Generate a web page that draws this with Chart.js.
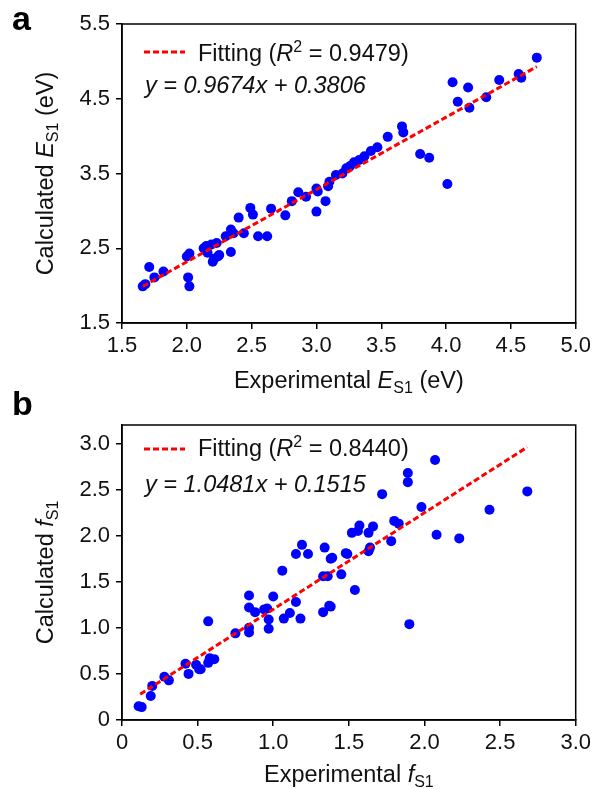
<!DOCTYPE html>
<html>
<head>
<meta charset="utf-8">
<script src="https://cdn.jsdelivr.net/npm/chart.js@4.4.1/dist/chart.umd.min.js"></script>
<style>
  html, body { margin: 0; padding: 0; background: #fff; }
  .panel { position: absolute; left: 0; width: 595px; }
  #panelA { top: 0; height: 400px; }
  #panelB { top: 380px; height: 409px; }
</style>
</head>
<body>
<div class="panel" id="panelA"><canvas id="chartA"></canvas></div>
<div class="panel" id="panelB"><canvas id="chartB"></canvas></div>
<script>
// --- DATA ---

// panel a : excitation energy E_S1 (eV)
const expA = [1.66, 1.68, 1.71, 1.75, 1.82, 2.01, 2.02, 2.00, 2.02, 2.13, 2.15, 2.19, 2.23, 2.16, 2.20,
  2.24, 2.25, 2.21, 2.34, 2.30, 2.34, 2.36, 2.40, 2.44, 2.49, 2.51, 2.55, 2.62, 2.65, 2.76,
  2.81, 2.86, 2.92, 3.00, 3.01, 3.00, 3.07, 3.09, 3.10, 3.15, 3.20, 3.23, 3.26, 3.29, 3.33,
  3.37, 3.42, 3.47, 3.55, 3.66, 3.67, 3.80, 3.87, 4.01, 4.05, 4.09, 4.17, 4.18, 4.31, 4.41,
  4.56, 4.58, 4.70];
const calcA = [1.99, 2.02, 2.25, 2.11, 2.19, 2.11, 1.99, 2.39, 2.43, 2.50, 2.53, 2.55, 2.57, 2.44, 2.32,
  2.39, 2.41, 2.36, 2.45, 2.66, 2.75, 2.70, 2.91, 2.70, 3.04, 2.95, 2.66, 2.66, 3.03, 2.94,
  3.13, 3.25, 3.19, 3.30, 3.26, 2.99, 3.13, 3.33, 3.39, 3.48, 3.50, 3.57, 3.60, 3.65, 3.68,
  3.73, 3.80, 3.85, 3.99, 4.13, 4.05, 3.76, 3.71, 3.36, 4.72, 4.46, 4.65, 4.38, 4.52, 4.75,
  4.83, 4.78, 5.05];
const fitAX = [1.66, 4.70];
const fitAY = [1.99, 4.93];
const ticksAX = [1.5, 2.0, 2.5, 3.0, 3.5, 4.0, 4.5, 5.0];
const ticksAY = [1.5, 2.5, 3.5, 4.5, 5.5];

// panel b : oscillator strength f_S1
const expB = [0.11, 0.13, 0.20, 0.19, 0.28, 0.31, 0.42, 0.44, 0.49, 0.51, 0.52, 0.57, 0.58, 0.61, 0.57,
  0.75, 0.84, 0.84, 0.84, 0.84, 0.88, 0.94, 0.96, 0.97, 0.97, 1.00, 1.07, 1.11, 1.15, 1.18,
  1.06, 1.33, 1.37, 1.33, 1.36, 1.15, 1.19, 1.23, 1.34, 1.38, 1.45, 1.48, 2.07, 1.89, 1.89,
  1.72, 2.68, 2.43, 1.98, 2.08, 2.23, 1.80, 1.83, 1.78, 1.66, 1.63, 1.57, 1.56, 1.52, 1.49,
  1.39, 1.63, 1.64, 1.54, 1.90, 1.38];
const calcB = [0.15, 0.14, 0.37, 0.26, 0.47, 0.43, 0.61, 0.50, 0.60, 0.55, 0.55, 0.62, 0.67, 0.66, 1.07,
  0.94, 0.95, 1.00, 1.22, 1.35, 1.17, 1.20, 1.21, 1.09, 0.99, 1.34, 1.10, 1.16, 1.28, 1.10,
  1.62, 1.17, 1.24, 1.56, 1.56, 1.80, 1.90, 1.80, 1.87, 1.75, 1.58, 1.81, 2.82, 2.68, 2.58,
  2.45, 2.48, 2.28, 2.31, 2.01, 1.97, 2.16, 2.13, 1.94, 2.10, 2.03, 2.11, 2.05, 2.03, 1.80,
  1.76, 1.83, 1.87, 1.41, 1.04, 1.23];
const fitBX = [0.12, 2.68];
const fitBY = [0.28, 2.96];
const ticksBX = [0, 0.5, 1.0, 1.5, 2.0, 2.5, 3.0];
const ticksBY = [0, 0.5, 1.0, 1.5, 2.0, 2.5, 3.0];

// --- HELPERS ---

const FONT = 'Arial, "Liberation Sans", Helvetica, sans-serif';
Chart.defaults.font.family = FONT;

function pts(xs, ys) {
  return xs.map((x, i) => ({ x: x, y: ys[i] }));
}

function fontOf(p) {
  return (p.bold ? 'bold ' : '') + (p.italic ? 'italic ' : '') + p.size + 'px ' + FONT;
}

// draw text made of several runs (italic letters, sub/superscripts)
function drawRich(ctx, parts, x, y, align) {
  let total = 0;
  parts.forEach(p => {
    ctx.font = fontOf(p);
    p.w = ctx.measureText(p.text).width;
    total += p.w;
  });
  let cx = align === 'center' ? x - total / 2 : x;
  ctx.textAlign = 'left';
  ctx.textBaseline = 'alphabetic';
  parts.forEach(p => {
    ctx.font = fontOf(p);
    ctx.fillText(p.text, cx, y + (p.dy || 0));
    cx += p.w;
  });
}

function makeScale(min, max, tickVals, fmt, isX, fitSize) {
  return {
    type: 'linear',
    min: min,
    max: max,
    afterBuildTicks: scale => { scale.ticks = tickVals.map(v => ({ value: v })); },
    afterFit: scale => {
      if (isX) scale.height = fitSize; else scale.width = fitSize;
    },
    ticks: {
      autoSkip: false,
      maxRotation: 0,
      color: '#111',
      padding: isX ? 4 : 6,
      font: { size: 22 },
      callback: v => fmt(v)
    },
    grid: {
      display: true,
      drawOnChartArea: false,
      drawTicks: true,
      tickLength: 6,
      color: '#000',
      lineWidth: 1.5
    },
    border: { display: true, color: '#000', width: 1.5 },
    title: { display: false }
  };
}

// frame, axis titles, legend, equation and panel letter
function decorPlugin(cfg) {
  return {
    id: 'decor',
    afterDraw(chart) {
      const ctx = chart.ctx;
      const a = chart.chartArea;
      ctx.save();
      ctx.strokeStyle = '#000';
      ctx.lineWidth = 1.5;
      ctx.strokeRect(a.left, a.top, a.right - a.left, a.bottom - a.top);

      ctx.fillStyle = '#111';
      // x title
      drawRich(ctx, cfg.xTitle, (a.left + a.right) / 2, cfg.xTitleY, 'center');
      // y title (rotated)
      ctx.save();
      ctx.translate(cfg.yTitleX, (a.top + a.bottom) / 2);
      ctx.rotate(-Math.PI / 2);
      drawRich(ctx, cfg.yTitle, 0, 0, 'center');
      ctx.restore();

      // legend sample
      ctx.strokeStyle = '#ff0000';
      ctx.lineWidth = 3;
      ctx.setLineDash([6, 3]);
      ctx.beginPath();
      ctx.moveTo(144, cfg.legendY);
      ctx.lineTo(185, cfg.legendY);
      ctx.stroke();
      ctx.setLineDash([]);

      ctx.fillStyle = '#111';
      drawRich(ctx, cfg.legendText, 198, cfg.legendTextY, 'left');
      drawRich(ctx, [{ text: cfg.equation, size: 23.5, italic: true }], 145, cfg.equationY, 'left');

      // panel letter
      ctx.fillStyle = '#000';
      drawRich(ctx, [{ text: cfg.letter, size: 34, bold: true }], 12, cfg.letterY, 'left');
      ctx.restore();
    }
  };
}

function makeChart(canvasId, o) {
  return new Chart(document.getElementById(canvasId).getContext('2d'), {
    type: 'scatter',
    data: {
      datasets: [
        {
          type: 'line',
          label: 'Fitting',
          data: pts(o.fitX, o.fitY),
          borderColor: '#ff0000',
          borderWidth: 3,
          borderDash: [6, 3],
          pointRadius: 0,
          fill: false,
          order: 0
        },
        {
          label: 'Data',
          data: pts(o.xs, o.ys),
          backgroundColor: '#0000ff',
          borderWidth: 0,
          pointRadius: 5,
          order: 1
        }
      ]
    },
    options: {
      responsive: true,
      maintainAspectRatio: false,
      animation: false,
      layout: { padding: { top: o.padTop, right: o.padRight, left: 0, bottom: 0 } },
      plugins: { legend: { display: false }, tooltip: { enabled: false } },
      scales: { x: o.xScale, y: o.yScale }
    },
    plugins: [decorPlugin(o.decor)]
  });
}

const fmt1 = v => v.toFixed(1);
const fmtB = v => (v === 0 ? '0' : v.toFixed(1));

makeChart('chartA', {
  xs: expA, ys: calcA, fitX: fitAX, fitY: fitAY,
  padTop: 24, padRight: 19,
  xScale: makeScale(1.5, 5.0, ticksAX, fmt1, true, 77),
  yScale: makeScale(1.5, 5.5, ticksAY, fmt1, false, 122),
  decor: {
    xTitle: [{ text: 'Experimental ', size: 23.5 }, { text: 'E', size: 23.5, italic: true }, { text: 'S1', size: 16, dy: 5 }, { text: ' (eV)', size: 23.5 }],
    xTitleY: 388,
    yTitle: [{ text: 'Calculated ', size: 23.5 }, { text: 'E', size: 23.5, italic: true }, { text: 'S1', size: 16, dy: 5 }, { text: ' (eV)', size: 23.5 }],
    yTitleX: 53,
    legendY: 52,
    legendText: [{ text: 'Fitting (', size: 23.5 }, { text: 'R', size: 23.5, italic: true }, { text: '2', size: 16, dy: -9 }, { text: ' = 0.9479)', size: 23.5 }],
    legendTextY: 61,
    equation: 'y = 0.9674x + 0.3806',
    equationY: 93,
    letter: 'a',
    letterY: 30
  }
});

makeChart('chartB', {
  xs: expB, ys: calcB, fitX: fitBX, fitY: fitBY,
  padTop: 45, padRight: 18,
  xScale: makeScale(0, 3.0, ticksBX, fmtB, true, 69),
  yScale: makeScale(0, 3.2, ticksBY, fmtB, false, 122),
  decor: {
    xTitle: [{ text: 'Experimental ', size: 23.5 }, { text: 'f', size: 23.5, italic: true }, { text: 'S1', size: 16, dy: 5 }],
    xTitleY: 402,
    yTitle: [{ text: 'Calculated ', size: 23.5 }, { text: 'f', size: 23.5, italic: true }, { text: 'S1', size: 16, dy: 5 }],
    yTitleX: 53,
    legendY: 69,
    legendText: [{ text: 'Fitting (', size: 23.5 }, { text: 'R', size: 23.5, italic: true }, { text: '2', size: 16, dy: -9 }, { text: ' = 0.8440)', size: 23.5 }],
    legendTextY: 76,
    equation: 'y = 1.0481x + 0.1515',
    equationY: 112,
    letter: 'b',
    letterY: 35
  }
});
</script>
</body>
</html>
